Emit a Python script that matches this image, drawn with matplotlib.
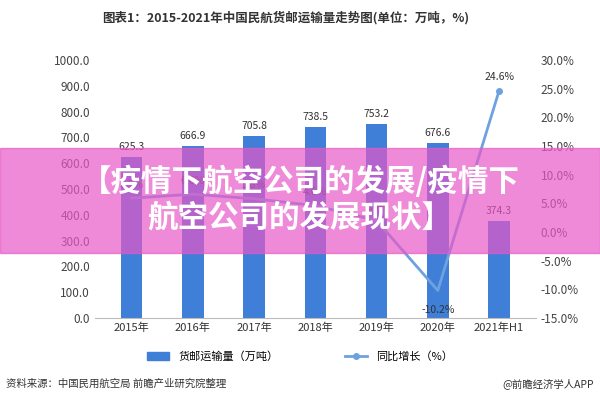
import matplotlib
matplotlib.use("Agg")
import matplotlib.pyplot as plt
from matplotlib.lines import Line2D
from matplotlib.patches import Patch, Rectangle

plt.rcParams['font.family'] = ['Noto Sans CJK SC', 'DejaVu Sans']

years = ["2015年", "2016年", "2017年", "2018年", "2019年", "2020年", "2021年H1"]
volume = [625.3, 666.9, 705.8, 738.5, 753.2, 676.6, 374.3]
growth = [5.9, 6.6, 5.8, 4.6, 2.0, -10.2, 24.6]

fig = plt.figure(figsize=(6, 4), dpi=100)
ax = fig.add_axes([0.158, 0.205, 0.735, 0.645])
x = range(len(years))
bar_c = "#3f7fd8"
line_c = "#6ea1e0"
ax.bar(x, volume, width=0.35, color=bar_c, zorder=2)
for i, v in zip(x, volume):
    ax.text(i, v + 20, f"{v:.1f}", ha="center", va="bottom", fontsize=7.5, color="#333")
ax.set_ylim(0, 1000)
ax.set_yticks(range(0, 1001, 100))
ax.set_yticklabels([f"{v:.1f}" for v in range(0, 1001, 100)], fontsize=8.5, color="#444")
ax.set_xticks(list(x))
ax.set_xticklabels(years, fontsize=8, color="#333")
ax.set_xlim(-0.6, len(years) - 0.4)
for s in ["top", "right", "left"]:
    ax.spines[s].set_visible(False)
ax.spines["bottom"].set_color("#bbb")
ax.tick_params(length=0)

ax2 = ax.twinx()
ax2.plot(x, growth, color=line_c, lw=2, marker="o", markersize=4, markevery=[6], zorder=3)
for i, g in zip(x, growth):
    off = -2.5 if g < 0 else 1.5
    ax2.text(i, g + off, f"{g:.1f}%", ha="center", va="bottom" if g >= 0 else "top", fontsize=7.5, color="#333")
ax2.set_ylim(-15, 30)
ax2.set_yticks(range(-15, 31, 5))
ax2.set_yticklabels([f"{v:.1f}%" for v in range(-15, 31, 5)], fontsize=8.5, color="#444")
for s in ["top", "right", "left", "bottom"]:
    ax2.spines[s].set_visible(False)
ax2.tick_params(length=0)

fig.text(0.17, 0.955, "图表1：2015-2021年中国民航货邮运输量走势图(单位：万吨，%)", fontsize=9, fontweight="bold", color="#333", va="center")
handles = [Patch(color=bar_c), Line2D([0], [0], color=line_c, lw=2, marker="o", markersize=4)]
fig.legend(handles, ["货邮运输量（万吨）", "同比增长（%）"], loc="center", bbox_to_anchor=(0.5, 0.108), ncol=2, frameon=False, fontsize=8, columnspacing=6)
fig.text(0.01, 0.04, "资料来源：中国民用航空局 前瞻产业研究院整理", fontsize=7.5, color="#333", va="center")
fig.text(0.99, 0.04, "@前瞻经济学人APP", fontsize=7.5, color="#333", va="center", ha="right")
fig.add_artist(Rectangle((0, 0.368), 1, 0.262, transform=fig.transFigure, color="#e858c8", alpha=0.7, zorder=10))
fig.text(0.5, 0.5, "【疫情下航空公司的发展/疫情下\n航空公司的发展现状】", ha="center", va="center", fontsize=22, fontweight="bold", color="white", zorder=11, linespacing=1.15)
fig.savefig("out.png", dpi=100)
